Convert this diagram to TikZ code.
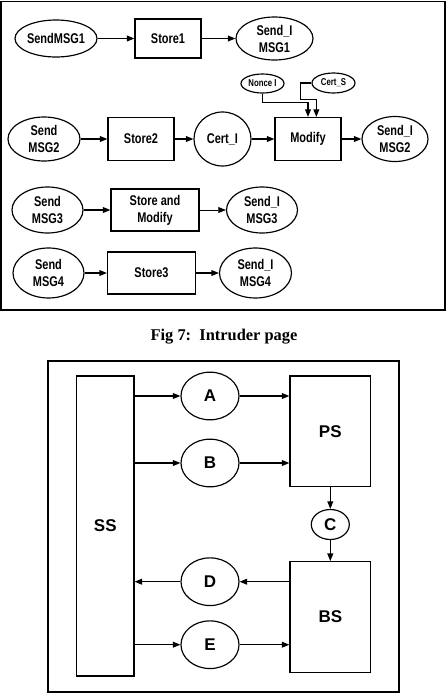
\documentclass[tikz,border=0pt]{standalone}
\usepackage{fontspec}
\setmainfont{Liberation Serif}
\newfontfamily\narrowsf[FakeStretch=0.78]{Liberation Sans}
\newfontfamily\labelsf{Liberation Sans}
\usepackage{tikz}
\usetikzlibrary{arrows.meta,shapes.geometric}

\tikzset{
  oval/.style={draw, ellipse, inner sep=0pt, align=center,
    font=\narrowsf\bfseries\fontsize{12}{14.5}\selectfont},
  box/.style={draw, rectangle, inner sep=0pt, align=center,
    font=\narrowsf\bfseries\fontsize{12}{14.5}\selectfont},
  tag/.style={draw, ellipse, inner sep=0pt,
    font=\narrowsf\bfseries\fontsize{8.5}{10}\selectfont},
  stage/.style={draw, rectangle, inner sep=0pt,
    font=\labelsf\bfseries\fontsize{14.5}{17}\selectfont},
  msg/.style={draw, ellipse, inner sep=0pt, minimum width=1.74cm, minimum height=1.43cm,
    font=\labelsf\bfseries\fontsize{14.5}{17}\selectfont},
  link/.style={-{Triangle[length=6.5pt,width=5pt]}},
  frame/.style={line width=1.5pt},
}

\begin{document}
\begin{tikzpicture}[x=0.03cm, y=-0.03cm, line width=1pt]
\useasboundingbox (0,0) rectangle (447,695);

% intruder page
\draw[frame] (1,1.5) rectangle (445,310);
\node[oval, minimum width=2.46cm, minimum height=1.11cm] (send1) at (56,38.5) {SendMSG1};
\node[box, minimum width=1.98cm, minimum height=1.17cm] (store1) at (168,38.5) {Store1};
\node[oval, minimum width=2.31cm, minimum height=1.29cm] (sendi1) at (274.5,38.5) {Send\_I\\MSG1};
\draw[link] (send1) -- (store1);
\draw[link] (store1) -- (sendi1);

\node[tag, minimum width=1.29cm, minimum height=0.57cm] (nonce) at (262.5,83.5) {Nonce I};
\node[tag, minimum width=1.29cm, minimum height=0.6cm] (certs) at (333.5,83) {Cert\_S};
\node[oval, minimum width=2.16cm, minimum height=1.32cm] (send2) at (44,139) {Send\\MSG2};
\node[box, minimum width=1.98cm, minimum height=1.29cm] (store2) at (141,139) {Store2};
\node[oval, minimum width=1.71cm, minimum height=1.62cm] (certi) at (222.5,139) {Cert\_I};
\node[box, minimum width=1.98cm, minimum height=1.29cm] (modify) at (308,139) {Modify};
\node[oval, minimum width=1.98cm, minimum height=1.35cm] (sendi2) at (395,139) {Send\_I\\MSG2};
\draw[link] (send2) -- (store2);
\draw[link] (store2) -- (certi);
\draw[link] (certi) -- (modify);
\draw[link] (modify) -- (sendi2);
\draw[link] (nonce.south) |- ([yshift=4.3mm]modify.north) -- (modify.north);
\draw[link] (certs.west) -| ++(-11,16.5) -| ([xshift=2.5mm]modify.north);

\node[oval, minimum width=2.13cm, minimum height=1.38cm] (send3) at (47.5,210) {Send\\MSG3};
\node[box, minimum width=2.64cm, minimum height=1.26cm] (storemod) at (155,210) {Store and\\Modify};
\node[oval, minimum width=2.13cm, minimum height=1.38cm] (sendi3) at (262,210) {Send\_I\\MSG3};
\draw[link] (send3) -- (storemod);
\draw[link, line width=0.6pt] (storemod) -- (sendi3);

\node[oval, minimum width=2.13cm, minimum height=1.5cm] (send4) at (48.5,273) {Send\\MSG4};
\node[box, minimum width=2.64cm, minimum height=1.26cm] (store3) at (151.5,273) {Store3};
\node[oval, minimum width=2.16cm, minimum height=1.5cm] (sendi4) at (255.5,273) {Send\_I\\MSG4};
\draw[link] (send4) -- (store3);
\draw[link] (store3) -- (sendi4);

\node[font=\bfseries\fontsize{14}{16}\selectfont] (caption) at (224,337) {Fig 7:\ \ Intruder page};

% stages
\draw[frame] (48,360.7) rectangle (399.3,692.3);
\node[stage, minimum width=1.72cm, minimum height=9cm] (ss) at (105.3,526) {SS};
\node[stage, minimum width=2.42cm, minimum height=3.32cm] (ps) at (330.3,431.3) {PS};
\node[stage, minimum width=2.42cm, minimum height=3.32cm] (bs) at (330.3,617) {BS};
\node[msg] (a) at (210,396) {A};
\node[msg] (b) at (210,463) {B};
\node[msg, minimum width=1.14cm, minimum height=0.9cm] (c) at (330.3,524.5) {C};
\node[msg] (d) at (210,581.7) {D};
\node[msg] (e) at (210,644.7) {E};
\draw[link] (ss.east |- a) -- (a);
\draw[link] (a) -- (ps.west |- a);
\draw[link] (ss.east |- b) -- (b);
\draw[link] (b) -- (ps.west |- b);
\draw[link] (ps) -- (c);
\draw[link] (c) -- (bs);
\draw[link] (bs.west |- d) -- (d);
\draw[link] (d) -- (ss.east |- d);
\draw[link] (ss.east |- e) -- (e);
\draw[link] (e) -- (bs.west |- e);
\end{tikzpicture}
\end{document}
